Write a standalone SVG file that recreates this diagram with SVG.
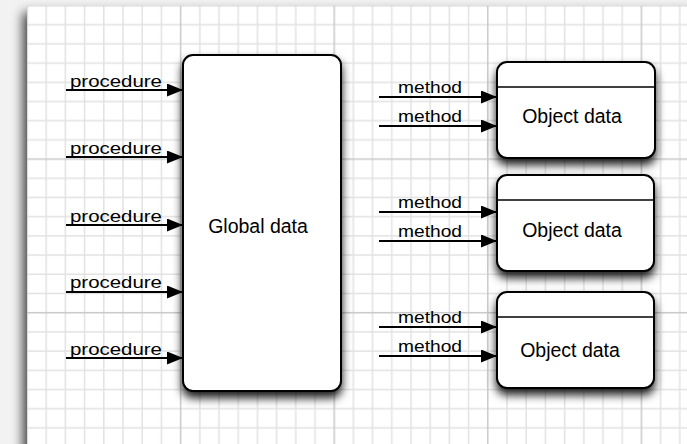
<svg xmlns="http://www.w3.org/2000/svg" width="687" height="444" viewBox="0 0 687 444">
  <defs>
    <!-- graph paper: minor lines every 19.2px, a darker line every 8 cells -->
    <pattern id="grid" patternUnits="userSpaceOnUse" x="26.25" y="4.75" width="153.6" height="153.6">
      <g stroke="#e2e2e2" stroke-width="1.5">
        <line x1="0" y1="19.95" x2="153.6" y2="19.95"/>
        <line x1="0" y1="39.15" x2="153.6" y2="39.15"/>
        <line x1="0" y1="58.35" x2="153.6" y2="58.35"/>
        <line x1="0" y1="77.55" x2="153.6" y2="77.55"/>
        <line x1="0" y1="96.75" x2="153.6" y2="96.75"/>
        <line x1="0" y1="115.95" x2="153.6" y2="115.95"/>
        <line x1="0" y1="135.15" x2="153.6" y2="135.15"/>
        <line x1="19.95" y1="0" x2="19.95" y2="153.6"/>
        <line x1="39.15" y1="0" x2="39.15" y2="153.6"/>
        <line x1="58.35" y1="0" x2="58.35" y2="153.6"/>
        <line x1="77.55" y1="0" x2="77.55" y2="153.6"/>
        <line x1="96.75" y1="0" x2="96.75" y2="153.6"/>
        <line x1="115.95" y1="0" x2="115.95" y2="153.6"/>
        <line x1="135.15" y1="0" x2="135.15" y2="153.6"/>
      </g>
      <g stroke="#c9c9c9" stroke-width="1.5">
        <line x1="0" y1="0.75" x2="153.6" y2="0.75"/>
        <line x1="0.75" y1="0" x2="0.75" y2="153.6"/>
      </g>
    </pattern>
    <filter id="paperShadow" x="-20%" y="-20%" width="140%" height="140%">
      <feDropShadow dx="-4" dy="7" stdDeviation="6" flood-color="#000" flood-opacity="0.75"/>
    </filter>
    <filter id="boxShadow" x="-20%" y="-20%" width="140%" height="140%">
      <feDropShadow dx="0" dy="6" stdDeviation="5" flood-color="#000" flood-opacity="0.9"/>
    </filter>
    <marker id="arrow" viewBox="0 0 16 13" refX="16" refY="6.5" markerWidth="16" markerHeight="13" markerUnits="userSpaceOnUse" orient="auto">
      <path d="M0,0 L16,6.5 L0,13 Z" fill="#000"/>
    </marker>
    <style>
      .box { fill: #fff; stroke: #000; stroke-width: 2; filter: url(#boxShadow); }
      .sep { stroke: #000; stroke-width: 1.5; }
      .edge { stroke: #000; stroke-width: 2; fill: none; marker-end: url(#arrow); }
      .lbl { font-family: "Liberation Sans", Arial, sans-serif; font-size: 16.5px; fill: #000; }
      .name { font-family: "Liberation Sans", Arial, sans-serif; font-size: 19.5px; fill: #000; text-anchor: middle; }
    </style>
  </defs>

  <!-- background and sheet of graph paper -->
  <rect x="0" y="0" width="687" height="444" fill="#f2f2f2"/>
  <rect x="27" y="5.5" width="700" height="480" fill="#fff" filter="url(#paperShadow)"/>
  <rect x="27" y="5.5" width="700" height="480" fill="url(#grid)"/>

  <!-- shared data block -->
  <g id="global-data">
    <rect class="box" x="183" y="55" width="158" height="336" rx="10"/>
    <text class="name" x="258" y="233">Global data</text>
  </g>

  <!-- objects -->
  <g id="object-1">
    <rect class="box" x="497" y="62" width="158" height="96" rx="10"/>
    <line class="sep" x1="497" y1="87" x2="655" y2="87"/>
    <text class="name" x="572" y="123">Object data</text>
  </g>
  <g id="object-2">
    <rect class="box" x="497" y="175" width="157" height="96" rx="10"/>
    <line class="sep" x1="497" y1="200" x2="654" y2="200"/>
    <text class="name" x="572" y="237">Object data</text>
  </g>
  <g id="object-3">
    <rect class="box" x="497" y="292" width="157" height="96" rx="10"/>
    <line class="sep" x1="497" y1="317" x2="654" y2="317"/>
    <text class="name" x="570" y="357">Object data</text>
  </g>

  <!-- connectors -->
  <g id="connectors">
    <line class="edge" x1="66" y1="90" x2="183" y2="90"/>
    <line class="edge" x1="66" y1="157" x2="183" y2="157"/>
    <line class="edge" x1="66" y1="225" x2="183" y2="225"/>
    <line class="edge" x1="66" y1="292" x2="183" y2="292"/>
    <line class="edge" x1="66" y1="358" x2="183" y2="358"/>

    <line class="edge" x1="379" y1="97" x2="497" y2="97"/>
    <line class="edge" x1="379" y1="126" x2="497" y2="126"/>
    <line class="edge" x1="379" y1="212" x2="497" y2="212"/>
    <line class="edge" x1="379" y1="241" x2="497" y2="241"/>
    <line class="edge" x1="379" y1="327" x2="497" y2="327"/>
    <line class="edge" x1="379" y1="356" x2="497" y2="356"/>

    <text class="lbl" x="70" y="87" textLength="92" lengthAdjust="spacingAndGlyphs">procedure</text>
    <text class="lbl" x="70" y="154" textLength="92" lengthAdjust="spacingAndGlyphs">procedure</text>
    <text class="lbl" x="70" y="222" textLength="92" lengthAdjust="spacingAndGlyphs">procedure</text>
    <text class="lbl" x="70" y="288" textLength="92" lengthAdjust="spacingAndGlyphs">procedure</text>
    <text class="lbl" x="70" y="355" textLength="92" lengthAdjust="spacingAndGlyphs">procedure</text>

    <text class="lbl" x="398" y="93" textLength="64" lengthAdjust="spacingAndGlyphs">method</text>
    <text class="lbl" x="398" y="122" textLength="64" lengthAdjust="spacingAndGlyphs">method</text>
    <text class="lbl" x="398" y="208" textLength="64" lengthAdjust="spacingAndGlyphs">method</text>
    <text class="lbl" x="398" y="237" textLength="64" lengthAdjust="spacingAndGlyphs">method</text>
    <text class="lbl" x="398" y="323" textLength="64" lengthAdjust="spacingAndGlyphs">method</text>
    <text class="lbl" x="398" y="352" textLength="64" lengthAdjust="spacingAndGlyphs">method</text>
  </g>
</svg>
